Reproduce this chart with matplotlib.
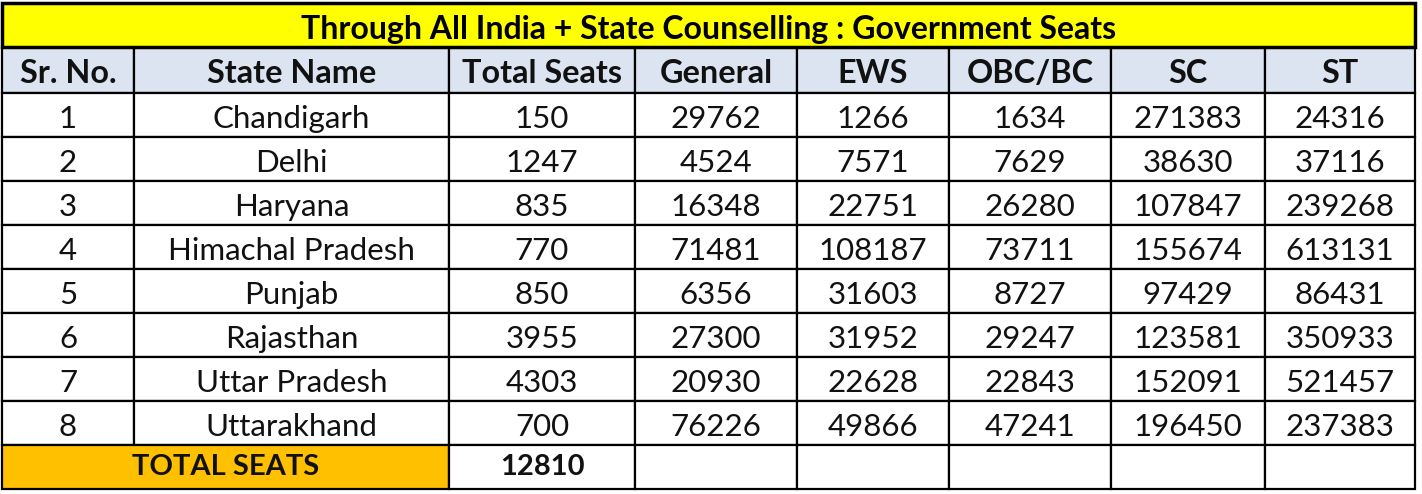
import matplotlib.pyplot as plt
from matplotlib.patches import Rectangle

# ===================== Table data =====================
title = "Through All India + State Counselling : Government Seats"
headers = ["Sr. No.", "State Name", "Total Seats", "General", "EWS", "OBC/BC", "SC", "ST"]
sr_no = [1, 2, 3, 4, 5, 6, 7, 8]
states = ["Chandigarh", "Delhi", "Haryana", "Himachal Pradesh", "Punjab",
          "Rajasthan", "Uttar Pradesh", "Uttarakhand"]
total_seats = [150, 1247, 835, 770, 850, 3955, 4303, 700]
general = [29762, 4524, 16348, 71481, 6356, 27300, 20930, 76226]
ews = [1266, 7571, 22751, 108187, 31603, 31952, 22628, 49866]
obc_bc = [1634, 7629, 26280, 73711, 8727, 29247, 22843, 47241]
sc = [271383, 38630, 107847, 155674, 97429, 123581, 152091, 196450]
st = [24316, 37116, 239268, 613131, 86431, 350933, 521457, 237383]
total_label = "TOTAL SEATS"
total_value = 12810

# ===================== Layout (pixels) =====================
W, H = 1422, 494
col_x = [2, 134, 449, 635, 797, 949, 1111, 1265, 1415]
title_top, title_bot = 3, 47
header_top, header_h = 47, 46
row_h = 44
font = "Lato"

fig = plt.figure(figsize=(W / 100, H / 100), dpi=100)
ax = fig.add_axes([0, 0, 1, 1])
ax.set_xlim(0, W)
ax.set_ylim(H, 0)
ax.axis("off")


def cell(x0, x1, y0, color, h=row_h, lw=1.6):
    ax.add_patch(Rectangle((x0, y0), x1 - x0, h, facecolor=color,
                           edgecolor="black", linewidth=lw))


def put(x0, x1, y_bottom, s, bold=False, size=22.5, lift=9):
    # baseline placed 'lift' px above the cell bottom
    ax.text((x0 + x1) / 2, y_bottom - lift, s, ha="center", va="baseline",
            fontsize=size, fontfamily=font,
            fontweight="bold" if bold else "normal", color="#111111")


# title bar
ax.add_patch(Rectangle((col_x[0], title_top), col_x[-1] - col_x[0], title_bot - title_top,
                       facecolor="#FFFF00", edgecolor="black", linewidth=2.5, zorder=3))
ax.text((col_x[0] + col_x[-1]) / 2, title_bot - 8, title,
        ha="center", va="baseline", fontsize=23, fontfamily=font,
        fontweight="bold", color="black", zorder=4)

# header row
for i, h in enumerate(headers):
    cell(col_x[i], col_x[i + 1], header_top, "#DCE3F1", h=header_h)
    put(col_x[i], col_x[i + 1], header_top + header_h, h, bold=True, size=23.3, lift=10)

# body rows
body_top = header_top + header_h
columns = [sr_no, states, total_seats, general, ews, obc_bc, sc, st]
for r in range(len(states)):
    y0 = body_top + row_h * r
    for c, values in enumerate(columns):
        cell(col_x[c], col_x[c + 1], y0, "white")
        put(col_x[c], col_x[c + 1], y0 + row_h, str(values[r]))

# total row
y0 = body_top + row_h * len(states)
cell(col_x[0], col_x[2], y0, "#FFC000")
put(col_x[0], col_x[2], y0 + row_h, total_label, bold=True, size=21, lift=14)
cell(col_x[2], col_x[3], y0, "white")
put(col_x[2], col_x[3], y0 + row_h, str(total_value), bold=True, size=21, lift=14)
for c in range(3, len(headers)):
    cell(col_x[c], col_x[c + 1], y0, "white")

fig.savefig("out.png", dpi=100)
